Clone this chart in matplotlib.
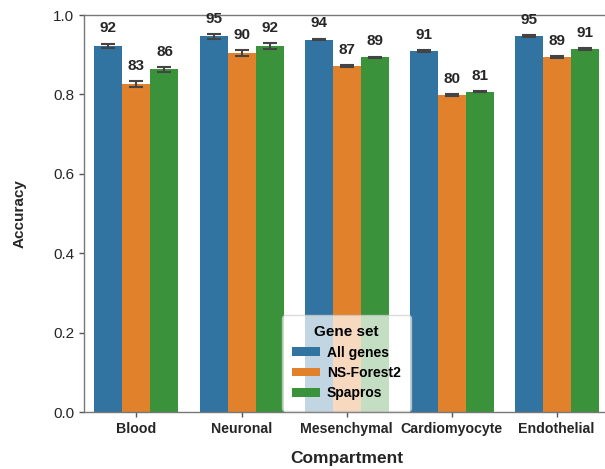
import matplotlib
matplotlib.use("Agg")
import matplotlib.pyplot as plt
import numpy as np

plt.rcParams['font.family'] = ['Liberation Sans', 'DejaVu Sans']

compartments = ["Blood", "Neuronal", "Mesenchymal", "Cardiomyocyte", "Endothelial"]
gene_sets = ["All genes", "NS-Forest2", "Spapros"]

acc_all = [0.923, 0.946, 0.938, 0.910, 0.947]
acc_nsf = [0.826, 0.904, 0.872, 0.798, 0.894]
acc_spa = [0.863, 0.922, 0.893, 0.807, 0.914]

err_all = [0.005, 0.006, 0.002, 0.002, 0.002]
err_nsf = [0.008, 0.008, 0.002, 0.002, 0.003]
err_spa = [0.006, 0.007, 0.002, 0.002, 0.002]

colors = ["#3274a1", "#e1812c", "#3a923a"]

fig = plt.figure(figsize=(6.05, 4.69), dpi=100)
ax = fig.add_axes([0.1388, 0.1215, 0.868, 0.8465])

x = np.arange(len(compartments))
width = 0.8 / 3
series = [(acc_all, err_all), (acc_nsf, err_nsf), (acc_spa, err_spa)]
for i, ((vals, errs), name, col) in enumerate(zip(series, gene_sets, colors)):
    pos = x + (i - 1) * width
    bars = ax.bar(pos, vals, width, color=col, label=name,
                  yerr=errs, capsize=5,
                  error_kw=dict(ecolor="#444444", elinewidth=1.5, capthick=1.5))
    ax.bar_label(bars, labels=[f"{round(v * 100)}" for v in vals],
                 padding=6, fontsize=11, fontweight="bold", color="#262626")

ax.set_xlim(-0.5, len(compartments) - 0.5)
ax.set_ylim(0, 1.0)
yt = np.arange(0, 1.01, 0.2)
ax.set_yticks(yt)
ax.set_yticklabels([f"{t:.1f}" for t in yt], fontsize=11, color="#262626")
ax.set_xticks(x)
ax.set_xticklabels(compartments, fontsize=10.2, fontweight="bold", color="#262626")
ax.tick_params(axis="both", color="#555555", length=3.6, width=1)
for s in ax.spines.values():
    s.set_color("#777777")
    s.set_linewidth(1)

ax.set_xlabel("Compartment", fontsize=12.5, fontweight="bold", color="#262626", labelpad=11)
ax.set_ylabel("Accuracy", fontsize=11, fontweight="bold", color="#262626", labelpad=19)

leg = ax.legend(title="Gene set", loc="lower center",
                title_fontproperties={"weight": "bold", "size": 11},
                prop={"weight": "bold", "size": 10},
                framealpha=0.7, borderaxespad=0.1, handlelength=2.0,
                handleheight=0.6, labelspacing=0.45, handletextpad=0.5,
                borderpad=0.75)
leg.get_frame().set_edgecolor("#cccccc")

fig.savefig("out.png", dpi=100, facecolor="white")
